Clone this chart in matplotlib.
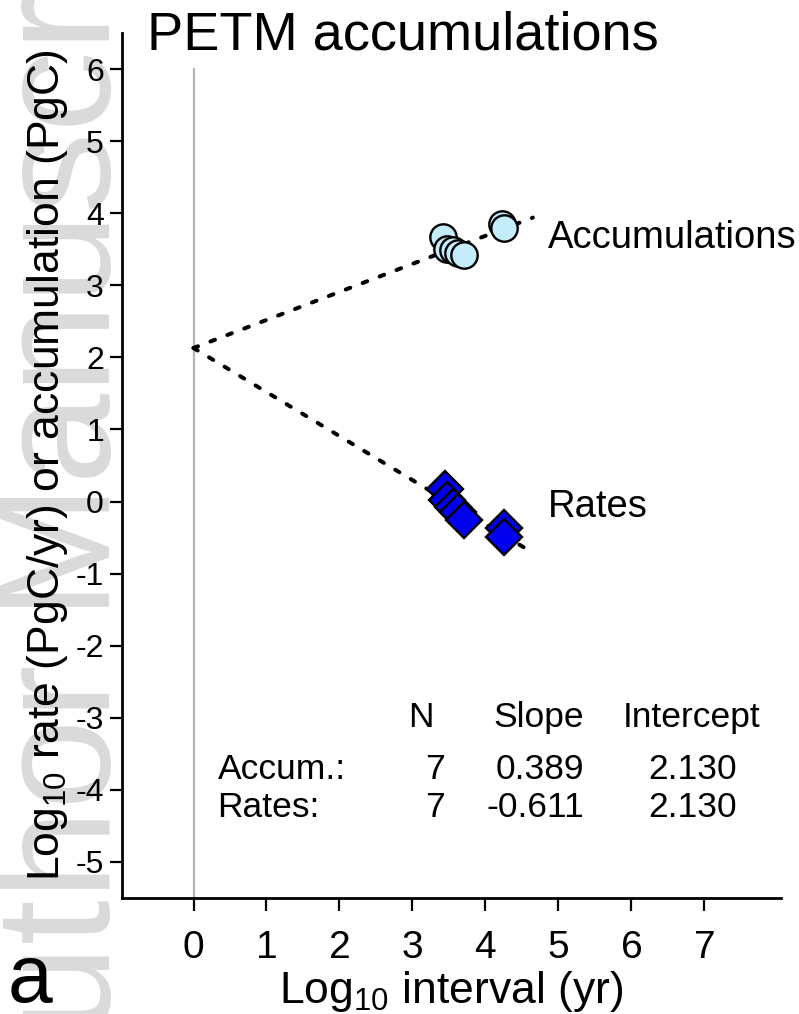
import matplotlib
matplotlib.use("Agg")
import matplotlib.pyplot as plt
import numpy as np

# ---- data ----
accum_x = [3.42, 3.47, 3.55, 3.63, 3.70, 4.23, 4.25]
accum_y = [3.67, 3.51, 3.49, 3.45, 3.42, 3.85, 3.79]
rates_x = [3.45, 3.48, 3.56, 3.63, 3.70, 4.25, 4.26]
rates_y = [0.17, 0.02, -0.07, -0.15, -0.25, -0.37, -0.49]

accum_fit = (0.389, 2.130)    # slope, intercept
rates_fit = (-0.611, 2.130)
fit_xmax = 4.65

table_cols = ["N", "Slope", "Intercept"]
table_rows = ["Accum.:", "Rates:"]
table_n = ["7", "7"]
table_slope = ["0.389", "-0.611"]
table_icpt = ["2.130", "2.130"]

xticks = list(range(0, 8))
yticks = list(range(-5, 7))

plt.rcParams['font.family'] = ['Liberation Sans', 'DejaVu Sans']
plt.rcParams['mathtext.fontset'] = 'custom'
plt.rcParams['mathtext.rm'] = 'Liberation Sans'
plt.rcParams['axes.unicode_minus'] = False

fig = plt.figure(figsize=(7.99, 10.14), dpi=100)
ax = fig.add_axes([122/799, 1 - 898/1014, (781 - 122)/799, (898 - 33)/1014])

# faint watermark in left margin
fig.text(110/799, (1014 - 1143)/1014, "Author Manuscript", rotation=90,
         rotation_mode='anchor', ha='left', va='baseline', fontsize=117,
         color='#dadada', zorder=-5)

ax.set_xlim(-0.98, 8.05)
ax.set_ylim(-5.5, 6.5)

ax.plot([0, 0], [-5.5, 6.0], color='#b4b4b4', lw=1.6, zorder=1, clip_on=False)

fx = np.array([0, fit_xmax])
for slope, icpt in [accum_fit, rates_fit]:
    ax.plot(fx, icpt + slope*fx, color='black', lw=2.9,
            linestyle=(0, (1.2, 3.3)), dash_capstyle='round', zorder=2)

ax.plot(accum_x, accum_y, 'o', ms=19, mfc='#c4ecfb', mec='black', mew=1.7, zorder=3)
ax.plot(rates_x, rates_y, 'D', ms=18, mfc='#0000ee', mec='black', mew=1.7, zorder=3)

ax.text(4.85, 3.65, "Accumulations", fontsize=27.5, va='center', ha='left')
ax.text(4.85, -0.08, "Rates", fontsize=27.5, va='center', ha='left')

# stats table
hy, r1, r2 = -3.0, -3.72, -4.24
fs = 25.5
ax.text(3.12, hy, table_cols[0], fontsize=fs, ha='center', va='center')
ax.text(4.73, hy, table_cols[1], fontsize=fs, ha='center', va='center')
ax.text(6.82, hy, table_cols[2], fontsize=fs, ha='center', va='center')
for i, yy in enumerate([r1, r2]):
    ax.text(0.33, yy, table_rows[i], fontsize=fs, ha='left', va='center')
    ax.text(3.45, yy, table_n[i], fontsize=fs, ha='right', va='center')
    ax.text(5.35, yy, table_slope[i], fontsize=fs, ha='right', va='center')
    ax.text(7.45, yy, table_icpt[i], fontsize=fs, ha='right', va='center')

for s in ['top', 'right']:
    ax.spines[s].set_visible(False)
for s in ['left', 'bottom']:
    ax.spines[s].set_linewidth(2.0)

ax.set_xticks(xticks)
ax.set_yticks(yticks)
ax.tick_params(axis='both', length=9, width=1.6, direction='out')
ax.tick_params(axis='y', labelsize=23, pad=4)
ax.tick_params(axis='x', labelsize=28, pad=14)

ax.set_xlabel(r"Log$_{10}$ interval (yr)", fontsize=32, labelpad=2)
ax.set_ylabel(r"Log$_{10}$ rate (PgC/yr) or accumulation (PgC)", fontsize=32,
              labelpad=4)

fig.text(147/799, 1 - 50/1014, "PETM accumulations", fontsize=39, ha='left', va='baseline')
fig.text(8/799, 1 - 1002/1014, "a", fontsize=58, ha='left', va='baseline')

fig.savefig("out.png", dpi=100)
